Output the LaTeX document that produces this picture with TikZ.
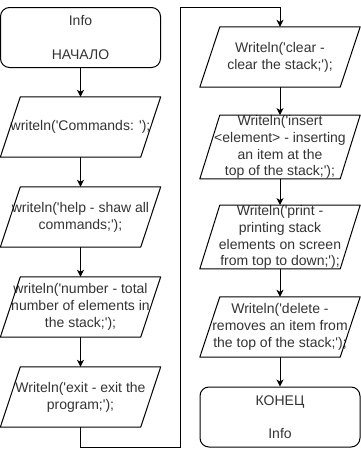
\documentclass[tikz,border=0pt]{standalone}
\usepackage{fontspec}
\setmainfont{Liberation Sans}[Ligatures=TeXOff]
\usetikzlibrary{arrows.meta,calc}
\begin{document}
\begin{tikzpicture}[x=1pt,y=-1pt,
  every node/.style={font=\fontsize{14}{16.8}\selectfont, text=black!80, align=center, inner sep=0pt},
  term/.style={draw, line width=1pt, rounded corners=9pt, minimum width=160pt, minimum height=60pt},
  io/.style={minimum width=160pt, minimum height=60pt},
  shapeline/.style={line width=1pt, line join=round},
  flow/.style={line width=1pt, -{Stealth[length=7pt,width=7pt,inset=2pt]}}
]
\useasboundingbox (0,0) rectangle (361,456);

% left column
\node[term] (s) at (80.5,37.5) {Info\\[0pt] \\[0pt]НАЧАЛО};
\node[io] (p1) at (80.5,127) {writeln('Commands: ');};
\node[io] (p2) at (80.5,217) {writeln('help - shaw all\\commands;');};
\node[io] (p3) at (80.5,307) {writeln('number - total\\number of elements in\\the stack;');};
\node[io] (p4) at (80.5,397) {Writeln('exit - exit the\\program;');};

% right column
\node[io] (p5) at (280,57) {Writeln('clear -\\clear the stack;');};
\node[io] (p6) at (280,147) {Writeln('insert\\<element> - inserting\\an item at the\\top of the stack;');};
\node[io] (p7) at (280,237) {Writeln('print -\\printing stack\\elements on screen\\from top to down;');};
\node[io] (p8) at (280,327) {Writeln('delete -\\removes an item from\\the top of the stack;');};
\node[term] (e) at (280,417) {КОНЕЦ\\[0pt] \\[0pt]Info};

% parallelogram outlines of the output blocks
\foreach \n in {p1,p2,p3,p4,p5,p6,p7,p8}
  \draw[shapeline] ($(\n.north west)+(20,0)$) -- (\n.north east)
    -- ($(\n.south east)+(-20,0)$) -- (\n.south west) -- cycle;

% connectors
\draw[flow] (s) -- (p1);
\draw[flow] (p1) -- (p2);
\draw[flow] (p2) -- (p3);
\draw[flow] (p3) -- (p4);

\coordinate (b1) at (80.5,447);
\coordinate (b2) at (180,447);
\coordinate (b3) at (180,7);
\coordinate (b4) at (280,7);
\draw[flow] (p4.south) -- (b1) -- (b2) -- (b3) -- (b4) -- (p5.north);

\draw[flow] (p5) -- (p6);
\draw[flow] (p6) -- (p7);
\draw[flow] (p7) -- (p8);
\draw[flow] (p8) -- (e);
\end{tikzpicture}
\end{document}
